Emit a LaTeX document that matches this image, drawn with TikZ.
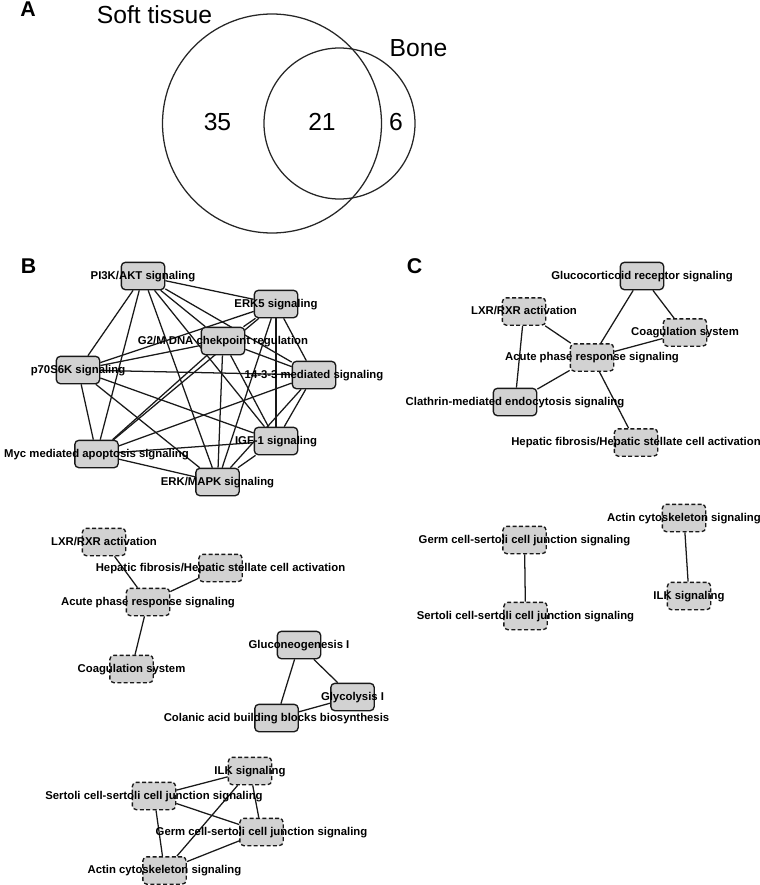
\documentclass[tikz,border=0pt]{standalone}
\usepackage{fontspec}
\setmainfont{Liberation Sans}
\usepackage{tikz}

\pgfdeclarelayer{links}
\pgfsetlayers{links,main}

\tikzset{
  venn/.style={line width=0.95pt, black!85},
  vtxt/.style={font=\fontsize{18.5}{20}\selectfont, inner sep=0pt},
  panel/.style={font=\bfseries\fontsize{16}{17}\selectfont, inner sep=0pt},
  solidbox/.style={draw=black!90, fill=gray!35, rounded corners=3pt, line width=1pt,
    minimum width=32.5pt, minimum height=20.5pt, inner sep=0pt},
  dashbox/.style={solidbox, dash pattern=on 3pt off 1.8pt},
  lbl/.style={font=\bfseries\fontsize{8.5}{10}\selectfont, inner sep=0pt,
    text height=0.72em, text depth=0.22em},
  link/.style={line width=0.95pt, black!90},
}

\begin{document}
\begin{tikzpicture}[x=0.75pt,y=-0.75pt]
  \useasboundingbox (0,0) rectangle (760,885);

  % panel A
  \node[panel, anchor=base west] at (20,16.7) (PA) {A};
  \draw[venn] (272,123.5) circle[radius=109.5];
  \draw[venn] (339.5,123.5) circle[radius=75.5];
  \node[vtxt, anchor=base] at (154.5,23.5) (ST) {Soft tissue};
  \node[vtxt, anchor=base] at (418.5,56.7) (BO) {Bone};
  \node[vtxt, anchor=base] at (217.5,130) (NA) {35};
  \node[vtxt, anchor=base] at (322,130) (NB) {21};
  \node[vtxt, anchor=base] at (396,130) (NC) {6};

  % panel B
  \node[panel, anchor=base west] at (20.7,273.3) (PB) {B};
  \node[solidbox] at (143,276) (PI) {};
  \node[solidbox] at (276,304) (EF) {};
  \node[solidbox] at (223,341) (GM) {};
  \node[solidbox] at (78,370) (PS) {};
  \node[solidbox] at (314,375) (FT) {};
  \node[solidbox] at (276,441) (IG) {};
  \node[solidbox] at (96.5,454) (MY) {};
  \node[solidbox] at (217.5,482) (MK) {};

  \node[dashbox] at (104,542) (LB) {};
  \node[dashbox] at (220.5,568) (HB) {};
  \node[dashbox] at (148,602) (AB) {};
  \node[dashbox] at (131.5,669) (CB) {};
  \node[solidbox] at (299,645) (GN) {};
  \node[solidbox] at (352.5,697) (GY) {};
  \node[solidbox] at (276.5,718) (CA) {};

  \node[dashbox] at (250,771) (IB) {};
  \node[dashbox] at (154,796) (SB) {};
  \node[dashbox] at (261.5,832) (GB) {};
  \node[dashbox] at (164.5,870.5) (XB) {};

  % panel C
  \node[panel, anchor=base west] at (406.7,273.3) (PC) {C};
  \node[solidbox] at (642,276) (GC) {};
  \node[dashbox] at (524,311.5) (LC) {};
  \node[dashbox] at (685,332.5) (KC) {};
  \node[dashbox] at (592,357.5) (QC) {};
  \node[solidbox] at (515,402) (TC) {};
  \node[dashbox] at (636,442.5) (HC) {};

  \node[dashbox] at (524.5,540) (RC) {};
  \node[dashbox] at (525.5,616) (SC) {};
  \node[dashbox] at (684,518) (XC) {};
  \node[dashbox] at (689,596) (IC) {};

  \begin{pgfonlayer}{links}
    \draw[link] (PI) edge (EF) edge (GM) edge (PS) edge (FT) edge (IG) edge (MY) edge (MK);
    \draw[link] (EF) edge (GM) edge (PS) edge (FT) edge (IG) edge (MY) edge (MK);
    \draw[link] (GM) edge (PS) edge (FT) edge (IG) edge (MY) edge (MK);
    \draw[link] (PS) edge (FT) edge (IG) edge (MY) edge (MK);
    \draw[link] (FT) edge (IG) edge (MY) edge (MK);
    \draw[link] (IG) edge (MY) edge (MK);
    \draw[link] (MY) edge (MK);

    \draw[link] (AB) edge (LB) edge (HB) edge (CB);
    \draw[link] (GN) edge (GY) edge (CA);
    \draw[link] (CA) edge (GY);

    \draw[link] (SB) edge (IB) edge (GB) edge (XB);
    \draw[link] (IB) edge (GB) edge (XB);
    \draw[link] (GB) edge (XB);

    \draw[link] (QC) edge (LC) edge (GC) edge (KC) edge (TC) edge (HC);
    \draw[link] (LC) edge (TC);
    \draw[link] (GC) edge (KC);

    \draw[link] (RC) edge (SC);
    \draw[link] (XC) edge (IC);
  \end{pgfonlayer}

  % labels
  \node[lbl] at (PI) (PIt) {PI3K/AKT signaling};
  \node[lbl] at (EF) (EFt) {ERK5 signaling};
  \node[lbl] at (GM) (GMt) {G2/M DNA chekpoint regulation};
  \node[lbl] at (PS) (PSt) {p70S6K signaling};
  \node[lbl] at (FT) (FTt) {14-3-3 mediated signaling};
  \node[lbl] at (IG) (IGt) {IGF-1 signaling};
  \node[lbl] at (MY) (MYt) {Myc mediated apoptosis signaling};
  \node[lbl] at (MK) (MKt) {ERK/MAPK signaling};

  \node[lbl] at (LB) (LBt) {LXR/RXR activation};
  \node[lbl] at (HB) (HBt) {Hepatic fibrosis/Hepatic stellate cell activation};
  \node[lbl] at (AB) (ABt) {Acute phase response signaling};
  \node[lbl] at (CB) (CBt) {Coagulation system};
  \node[lbl] at (GN) (GNt) {Gluconeogenesis I};
  \node[lbl] at (GY) (GYt) {Glycolysis I};
  \node[lbl] at (CA) (CAt) {Colanic acid building blocks biosynthesis};

  \node[lbl] at (IB) (IBt) {ILK signaling};
  \node[lbl] at (SB) (SBt) {Sertoli cell-sertoli cell junction signaling};
  \node[lbl] at (GB) (GBt) {Germ cell-sertoli cell junction signaling};
  \node[lbl] at (XB) (XBt) {Actin cytoskeleton signaling};

  \node[lbl] at (GC) (GCt) {Glucocorticoid receptor signaling};
  \node[lbl] at (LC) (LCt) {LXR/RXR activation};
  \node[lbl] at (KC) (KCt) {Coagulation system};
  \node[lbl] at (QC) (QCt) {Acute phase response signaling};
  \node[lbl] at (TC) (TCt) {Clathrin-mediated endocytosis signaling};
  \node[lbl] at (HC) (HCt) {Hepatic fibrosis/Hepatic stellate cell activation};

  \node[lbl] at (RC) (RCt) {Germ cell-sertoli cell junction signaling};
  \node[lbl] at (SC) (SCt) {Sertoli cell-sertoli cell junction signaling};
  \node[lbl] at (XC) (XCt) {Actin cytoskeleton signaling};
  \node[lbl] at (IC) (ICt) {ILK signaling};
\end{tikzpicture}
\end{document}
